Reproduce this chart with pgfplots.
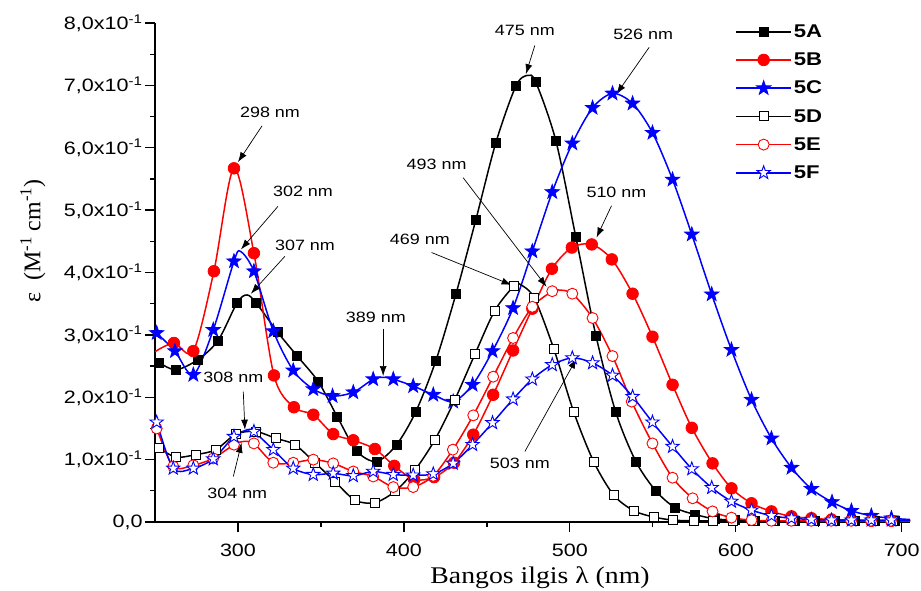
\documentclass[border=0pt]{standalone}
\usepackage{fontspec}
\setmainfont{Liberation Sans}[FakeStretch=1.2]
\newfontfamily\serifx{Liberation Serif}[FakeStretch=1.16]
\newfontfamily\serify{Liberation Serif}
\usepackage{pgfplots}
\pgfplotsset{compat=1.18}
\usepackage{pgfplotstable}
\usetikzlibrary{arrows.meta}
\tikzset{ann/.style={-{Latex[length=10bp,width=7bp]}, line width=0.7bp, black},
  annlabel/.style={font=\fontsize{15}{18}\selectfont, inner sep=0pt}}

\pgfdeclareplotmark{pstar}{%
 \pgfpathmoveto{\pgfpointpolar{90}{\pgfplotmarksize}}%
 \pgfpathlineto{\pgfpointpolar{126}{0.4\pgfplotmarksize}}%
 \pgfpathlineto{\pgfpointpolar{162}{\pgfplotmarksize}}%
 \pgfpathlineto{\pgfpointpolar{198}{0.4\pgfplotmarksize}}%
 \pgfpathlineto{\pgfpointpolar{234}{\pgfplotmarksize}}%
 \pgfpathlineto{\pgfpointpolar{270}{0.4\pgfplotmarksize}}%
 \pgfpathlineto{\pgfpointpolar{306}{\pgfplotmarksize}}%
 \pgfpathlineto{\pgfpointpolar{342}{0.4\pgfplotmarksize}}%
 \pgfpathlineto{\pgfpointpolar{18}{\pgfplotmarksize}}%
 \pgfpathlineto{\pgfpointpolar{54}{0.4\pgfplotmarksize}}%
 \pgfpathclose
 \pgfusepathqfillstroke}

% columns: x, y (line), m (marker, nan = line point only)
\pgfplotstableread{
x y m
250 0.258 nan
252.6 0.255 0.255
262.6 0.244 0.244
275.7 0.260 0.260
288 0.291 0.291
299.6 0.352 0.352
305.5 0.364 nan
311 0.351 0.351
324 0.304 0.304
335.4 0.267 0.267
348.4 0.225 0.225
359.8 0.169 0.169
371.5 0.114 0.114
383.5 0.097 0.097
395.6 0.124 0.124
407.2 0.177 0.177
419.3 0.259 0.259
431.3 0.365 0.365
443.4 0.485 0.485
455.4 0.608 0.608
467.5 0.699 0.699
474.5 0.716 nan
479.5 0.705 0.705
491.6 0.611 0.611
503.6 0.457 0.457
515.7 0.299 0.299
527.7 0.176 0.176
539.8 0.097 0.097
551.8 0.050 0.050
563.4 0.023 0.023
575.5 0.012 0.012
587.5 0.005 0.005
599.6 0.003 0.003
611.6 0.002 0.002
623.6 0.002 0.002
635.7 0.002 0.002
647.7 0.002 0.002
659.8 0.002 0.002
671.8 0.002 0.002
683.9 0.002 0.002
695.9 0.002 0.002
705 0.002 nan
}\dA

\pgfplotstableread{
x y m
250 0.273 nan
261.4 0.287 0.287
273.1 0.274 0.274
285.5 0.402 0.402
297.6 0.567 0.567
309.6 0.431 0.431
321.7 0.235 0.235
333.7 0.184 0.184
345.4 0.172 0.172
357.4 0.141 0.141
369.5 0.131 0.131
382.5 0.117 0.117
394.2 0.090 0.090
406.2 0.068 0.068
418.2 0.072 0.072
430.2 0.095 0.095
441.8 0.140 0.140
453.8 0.204 0.204
465.8 0.275 0.275
477.4 0.342 0.342
489.2 0.406 0.406
501.2 0.440 0.440
513.2 0.445 0.445
525.3 0.421 0.421
537.8 0.366 0.366
549.8 0.297 0.297
561.9 0.220 0.220
573.5 0.151 0.151
586 0.094 0.094
597.4 0.054 0.054
609.5 0.030 0.030
621.5 0.017 0.017
633.6 0.009 0.009
645.6 0.006 0.006
657.7 0.004 0.004
669.7 0.003 0.003
681.7 0.002 0.002
693.8 0.002 0.002
705 0.002 nan
}\dB

\pgfplotstableread{
x y m
250 0.305 nan
251 0.303 0.303
262 0.274 0.274
273.1 0.236 0.236
285.1 0.308 0.308
297.6 0.418 0.418
301.5 0.434 nan
309.6 0.402 0.402
321.3 0.306 0.306
333.3 0.243 0.243
345.4 0.213 0.213
357 0.202 0.202
369.5 0.208 0.208
381.5 0.229 0.229
388 0.232 nan
393.6 0.229 0.229
405.6 0.218 0.218
417.7 0.204 0.204
429.7 0.193 0.193
441.4 0.220 0.220
453.4 0.274 0.274
465.8 0.343 0.343
477.4 0.434 0.434
489.4 0.529 0.529
501.5 0.607 0.607
513.7 0.664 0.664
525.7 0.687 0.687
537.8 0.671 0.671
549.8 0.624 0.624
561.9 0.549 0.549
573.5 0.461 0.461
585.5 0.365 0.365
597.4 0.276 0.276
609.5 0.196 0.196
621.5 0.134 0.134
633.6 0.087 0.087
645.6 0.053 0.053
658 0.032 0.032
669.7 0.018 0.018
681.7 0.010 0.010
693.8 0.006 0.006
705 0.004 nan
}\dC

\pgfplotstableread{
x y m
250 0.122 nan
252.6 0.118 0.118
262.6 0.104 0.104
274.7 0.108 0.108
286.7 0.116 0.116
298.8 0.141 0.141
310.8 0.145 0.145
322.9 0.134 0.134
334.3 0.124 0.124
346.4 0.095 0.095
358.4 0.065 0.065
370.5 0.035 0.035
382.5 0.031 0.031
394.6 0.049 0.049
406.6 0.083 0.083
418.7 0.132 0.132
430.7 0.196 0.196
442.8 0.269 0.269
454.8 0.339 0.339
466.5 0.379 0.379
470 0.381 nan
478.6 0.359 0.359
490.4 0.277 0.277
502.4 0.176 0.176
514.5 0.096 0.096
526.5 0.043 0.043
538.6 0.018 0.018
550.6 0.008 0.008
562.2 0.003 0.003
574.5 0.002 0.002
586.5 0.002 0.002
598.5 0.002 0.002
610.5 0.002 0.002
622.5 0.002 0.002
634.5 0.002 0.002
646.5 0.002 0.002
658.5 0.002 0.002
670.5 0.002 0.002
682.5 0.002 0.002
694.5 0.002 0.002
705 0.002 nan
}\dD

\pgfplotstableread{
x y m
250 0.160 nan
251 0.150 0.150
261 0.089 0.089
273.1 0.091 0.091
285.1 0.102 0.102
297.6 0.124 0.124
303 0.129 nan
309.6 0.126 0.126
321.3 0.095 0.095
333.3 0.095 0.095
345.4 0.100 0.100
357.4 0.094 0.094
369.5 0.081 0.081
381.5 0.073 0.073
393.6 0.056 0.056
405.6 0.056 0.056
417.7 0.074 0.074
429.5 0.116 0.116
441.8 0.171 0.171
453.8 0.233 0.233
465.8 0.295 0.295
477.4 0.345 0.345
489.4 0.370 0.370
493 0.372 nan
501.5 0.366 0.366
513.7 0.327 0.327
525.7 0.266 0.266
537.3 0.193 0.193
549.8 0.126 0.126
561.9 0.071 0.071
574 0.038 0.038
586 0.017 0.017
597.4 0.007 0.007
609.5 0.003 0.003
621.5 0.002 0.002
633.5 0.002 0.002
645.5 0.002 0.002
657.5 0.002 0.002
669.5 0.002 0.002
681.5 0.002 0.002
693.5 0.002 0.002
705 0.002 nan
}\dE

\pgfplotstableread{
x y m
250 0.165 nan
251 0.160 0.160
261 0.086 0.086
273.1 0.086 0.086
285.1 0.101 0.101
297.6 0.137 0.137
306 0.148 nan
309.6 0.145 0.145
321.3 0.116 0.116
333.3 0.086 0.086
345.4 0.076 0.076
357.4 0.078 0.078
369.5 0.074 0.074
381.5 0.081 0.081
393.6 0.076 0.076
405.6 0.075 0.075
417.7 0.077 0.077
429.7 0.094 0.094
441.4 0.124 0.124
453.4 0.159 0.159
465.8 0.197 0.197
477.4 0.229 0.229
489.4 0.252 0.252
501.5 0.263 0.263
513.7 0.255 0.255
525.7 0.235 0.235
537.8 0.201 0.201
549.8 0.160 0.160
561.9 0.121 0.121
573.5 0.085 0.085
585.5 0.055 0.055
597.4 0.033 0.033
609.5 0.019 0.019
621.5 0.010 0.010
633.6 0.006 0.006
645.6 0.004 0.004
657.7 0.003 0.003
669.7 0.003 0.003
681.7 0.003 0.003
693.8 0.003 0.003
705 0.003 nan
}\dF

\begin{document}
\begin{tikzpicture}
\useasboundingbox (-155bp,-69bp) rectangle (766bp,522bp);
\begin{axis}[
  at={(0,0)}, anchor=south west,
  scale only axis, width=755bp, height=499bp,
  xmin=250, xmax=705, ymin=0, ymax=0.8,
  axis x line*=bottom, axis y line*=left,
  axis line style={line width=1.4bp, black, -},
  tick align=outside,
  major tick length=10bp, minor tick length=5bp,
  tick style={line width=1.3bp, black},
  xtick={300,400,500,600,700},
  xticklabels={300,400,500,600,700},
  minor x tick num=1,
  ytick={0,0.1,0.2,0.3,0.4,0.5,0.6,0.7,0.8},
  yticklabels={{0,0},{1,0x10\textsuperscript{-1}},{2,0x10\textsuperscript{-1}},{3,0x10\textsuperscript{-1}},{4,0x10\textsuperscript{-1}},{5,0x10\textsuperscript{-1}},{6,0x10\textsuperscript{-1}},{7,0x10\textsuperscript{-1}},{8,0x10\textsuperscript{-1}}},
  minor y tick num=1,
  ticklabel style={font=\fontsize{18}{21}\selectfont},
  xticklabel style={yshift=-8bp},
  yticklabel style={xshift=1bp},
  xlabel={\serifx Bangos ilgis λ (nm)},
  xlabel style={font=\fontsize{24}{28}\selectfont, at={(axis description cs:0.51,-0.112)}, anchor=center},
  ylabel={\serify ε\ \ (M\textsuperscript{-1} cm\textsuperscript{-1})},
  ylabel style={font=\fontsize{24}{28}\selectfont, at={(axis description cs:-0.1616,0.563)}, anchor=center},
  legend style={at={(axis description cs:0.7685,1.001)}, anchor=north west, draw=none, fill=none,
     font=\fontsize{18.5}{20}\selectfont\bfseries, inner sep=0pt, row sep=10bp,
     cells={anchor=west}},
  legend image code/.code={\draw[mark repeat=2,mark phase=2,#1] plot coordinates {(0bp,0bp) (27.5bp,0bp) (55bp,0bp)};},
  every axis plot/.append style={line width=1.5bp},
]
% 5A
\addplot[black, smooth, no marks, forget plot] table[x=x,y=y]{\dA};
\addplot[black, only marks, mark=square*, mark size=4.5bp, mark options={fill=black, line width=0.8bp}, forget plot] table[x=x,y=m]{\dA};
% 5B
\addplot[red, smooth, no marks, forget plot] table[x=x,y=y]{\dB};
\addplot[red, only marks, mark=*, mark size=5.8bp, mark options={fill=red, line width=0.8bp}, forget plot] table[x=x,y=m]{\dB};
% 5C
\addplot[blue, smooth, no marks, forget plot] table[x=x,y=y]{\dC};
\addplot[blue, only marks, mark=pstar, mark size=7.5bp, mark options={fill=blue, line width=0.8bp}, forget plot] table[x=x,y=m]{\dC};
% 5D
\addplot[black, smooth, no marks, forget plot] table[x=x,y=y]{\dD};
\addplot[black, only marks, mark=square*, mark size=4.5bp, mark options={fill=white, line width=0.9bp}, forget plot] table[x=x,y=m]{\dD};
% 5E
\addplot[red, smooth, no marks, forget plot] table[x=x,y=y]{\dE};
\addplot[red, only marks, mark=*, mark size=5.5bp, mark options={fill=white, line width=0.9bp}, forget plot] table[x=x,y=m]{\dE};
% 5F
\addplot[blue, smooth, no marks, forget plot] table[x=x,y=y]{\dF};
\addplot[blue, only marks, mark=pstar, mark size=7bp, mark options={fill=white, line width=0.9bp}, forget plot] table[x=x,y=m]{\dF};

\addlegendimage{black, line width=1.5bp, mark=square*, mark size=4.5bp, mark options={fill=black, line width=0.8bp}}
\addlegendentry{5A}
\addlegendimage{red, line width=1.5bp, mark=*, mark size=5.8bp, mark options={fill=red, line width=0.8bp}}
\addlegendentry{5B}
\addlegendimage{blue, line width=1.5bp, mark=pstar, mark size=7.5bp, mark options={fill=blue, line width=0.8bp}}
\addlegendentry{5C}
\addlegendimage{black, line width=1.5bp, mark=square*, mark size=4.5bp, mark options={fill=white, line width=0.9bp}}
\addlegendentry{5D}
\addlegendimage{red, line width=1.5bp, mark=*, mark size=5.5bp, mark options={fill=white, line width=0.9bp}}
\addlegendentry{5E}
\addlegendimage{blue, line width=1.5bp, mark=pstar, mark size=7bp, mark options={fill=white, line width=0.9bp}}
\addlegendentry{5F}

% annotations
\node[annlabel] at (axis cs:319.3,0.657) {298 nm};
\draw[ann] (axis cs:314.5,0.635) -- (axis cs:300,0.577);
\node[annlabel] at (axis cs:339.2,0.530) {302 nm};
\draw[ann] (axis cs:324.1,0.506) -- (axis cs:301.8,0.437);
\node[annlabel] at (axis cs:340.4,0.443) {307 nm};
\draw[ann] (axis cs:328.3,0.426) -- (axis cs:307.8,0.366);
\node[annlabel] at (axis cs:383.1,0.328) {389 nm};
\draw[ann] (axis cs:387.5,0.310) -- (axis cs:387.5,0.234);
\node[annlabel] at (axis cs:297.2,0.232) {308 nm};
\draw[ann] (axis cs:303.2,0.209) -- (axis cs:304.2,0.148);
\node[annlabel] at (axis cs:299.6,0.046) {304 nm};
\draw[ann] (axis cs:297.2,0.073) -- (axis cs:302.2,0.127);
\node[annlabel] at (axis cs:409.6,0.453) {469 nm};
\draw[ann] (axis cs:416.7,0.432) -- (axis cs:464.9,0.380);
\node[annlabel] at (axis cs:419.7,0.573) {493 nm};
\draw[ann] (axis cs:435.7,0.552) -- (axis cs:486,0.377);
\node[annlabel] at (axis cs:472.9,0.788) {475 nm};
\draw[ann] (axis cs:478.9,0.764) -- (axis cs:473.5,0.718);
\node[annlabel] at (axis cs:544.2,0.782) {526 nm};
\draw[ann] (axis cs:547.8,0.761) -- (axis cs:528.1,0.686);
\node[annlabel] at (axis cs:528.1,0.528) {510 nm};
\draw[ann] (axis cs:525.1,0.507) -- (axis cs:516.1,0.456);
\node[annlabel] at (axis cs:469.9,0.094) {503 nm};
\draw[ann] (axis cs:472.9,0.113) -- (axis cs:504,0.262);
\end{axis}
\end{tikzpicture}
\end{document}
